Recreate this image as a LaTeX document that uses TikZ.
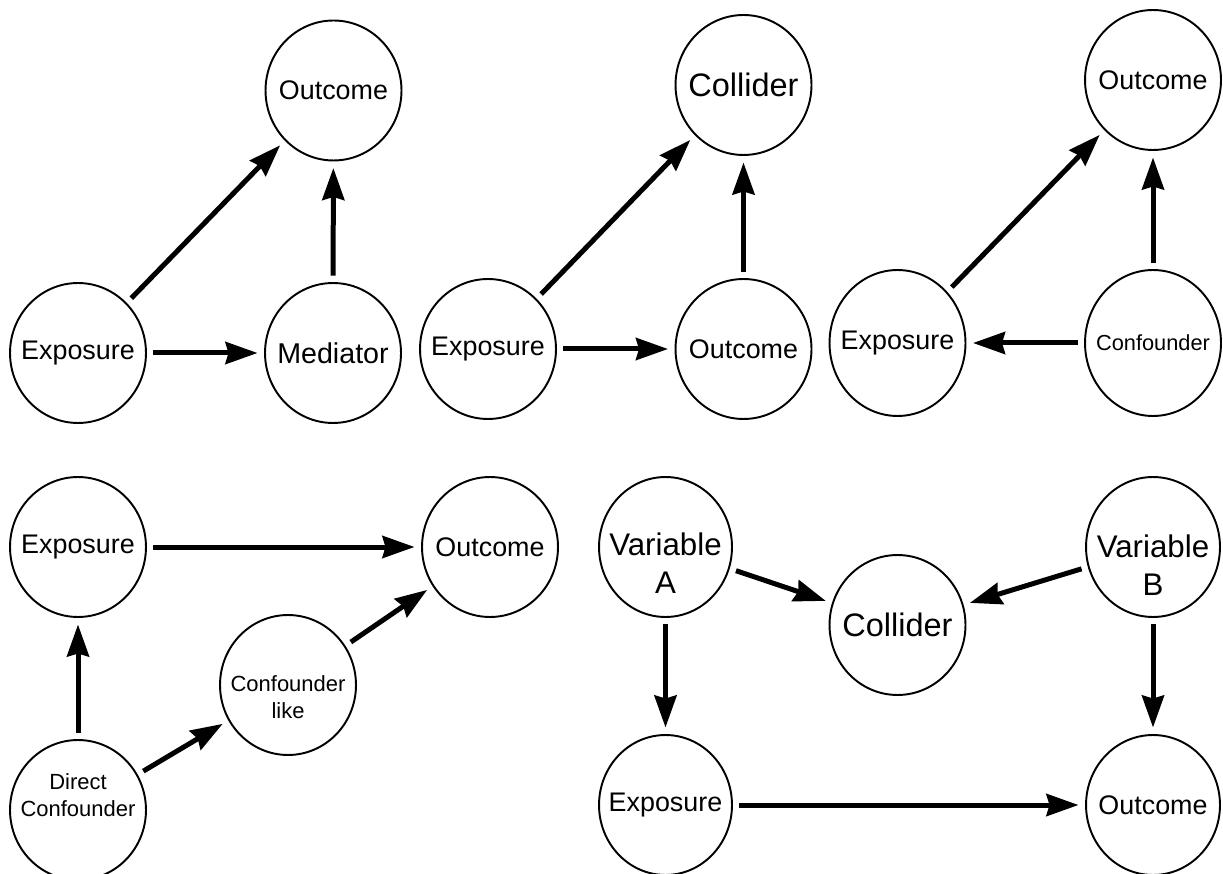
\documentclass[tikz,border=0pt]{standalone}
\usepackage{fontspec}
\setmainfont{Liberation Sans}
\usetikzlibrary{shapes,arrows.meta,positioning}

% text that does not widen the ellipse
\newcommand{\ntext}[1]{\makebox[0pt]{#1}}

\tikzset{
  cnode/.style={draw, ellipse, line width=1.1pt, minimum width=2.72cm, minimum height=2.8cm,
    inner sep=0pt, outer sep=0.15cm, font=\fontsize{15.3}{18.4}\selectfont},
  arr/.style={-{Stealth[length=0.64cm, width=0.44cm, inset=0.06cm]}, line width=0.1cm},
  lbl/.style={align=center, inner sep=0pt}
}

\begin{document}
\begin{tikzpicture}[x=0.02cm, y=-0.02cm]
    \useasboundingbox (0,0) rectangle (1223,874);

    % mediator
    \node (o1) [cnode] at (333.5,90.5) {\ntext{Outcome}};
    \node (e1) [cnode] at (78,353) {\ntext{Exposure}};
    \node (m1) [cnode, font=\fontsize{16.3}{19.6}\selectfont] at (333,353) {\ntext{Mediator}};
    \draw[arr] (e1) -- (m1);
    \draw[arr] (e1) -- (o1);
    \draw[arr] (m1) -- (o1);

    % collider
    \node (c2) [cnode, font=\fontsize{18.5}{22.2}\selectfont] at (743.5,85) {\ntext{Collider}};
    \node (e2) [cnode] at (488,349) {\ntext{Exposure}};
    \node (o2) [cnode] at (743.5,349) {\ntext{Outcome}};
    \draw[arr] (e2) -- (o2);
    \draw[arr] (e2) -- (c2);
    \draw[arr] (o2) -- (c2);

    % confounder
    \node (o3) [cnode] at (1153,80) {\ntext{Outcome}};
    \node (e3) [cnode, minimum height=2.92cm] at (897.5,343) {\ntext{Exposure}};
    \node (f3) [cnode, minimum height=2.92cm, font=\fontsize{12.4}{14.9}\selectfont] at (1153,343) {\ntext{Confounder}};
    \draw[arr] (f3) -- (e3);
    \draw[arr] (e3) -- (o3);
    \draw[arr] (f3) -- (o3);

    % confounder like
    \node (e4) [cnode] at (78,547) {\ntext{Exposure}};
    \node (o4) [cnode] at (490,547) {\ntext{Outcome}};
    \node (l4) [cnode] at (288,685) {};
    \node (l4t) [lbl, font=\fontsize{12.5}{15.1}\selectfont] at ([yshift=-0.24cm]l4.center) {Confounder\\like};
    \node (d4) [cnode] at (78,810) {};
    \node (d4t) [lbl, font=\fontsize{12.5}{15.1}\selectfont] at ([yshift=0.3cm]d4.center) {Direct\\Confounder};
    \draw[arr] (e4) -- (o4);
    \draw[arr] (d4) -- (e4);
    \draw[arr] (d4) -- (l4);
    \draw[arr] (l4) -- (o4);

    % m-bias
    \node (a5) [cnode, minimum width=2.66cm] at (665.5,547) {};
    \node (a5t) [lbl, font=\fontsize{17.8}{21.6}\selectfont] at ([yshift=-0.33cm]a5.center) {Variable\\A};
    \node (b5) [cnode, minimum width=2.68cm] at (1153,547) {};
    \node (b5t) [lbl, font=\fontsize{17.8}{21.6}\selectfont] at ([yshift=-0.36cm]b5.center) {Variable\\B};
    \node (k5) [cnode, font=\fontsize{18.5}{22.2}\selectfont] at (897.5,625) {\ntext{Collider}};
    \node (e5) [cnode, minimum width=2.66cm] at (665.5,805) {\ntext{Exposure}};
    \node (o5) [cnode, minimum width=2.68cm] at (1153,805) {\ntext{Outcome}};
    \draw[arr] (a5) -- (k5);
    \draw[arr] (b5) -- (k5);
    \draw[arr] (a5) -- (e5);
    \draw[arr] (b5) -- (o5);
    \draw[arr] (e5) -- (o5);
\end{tikzpicture}
\end{document}
